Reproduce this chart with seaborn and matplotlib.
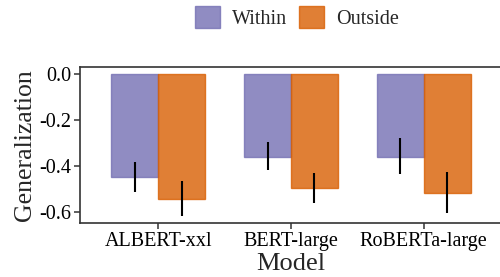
import matplotlib
matplotlib.use("Agg")
import matplotlib.pyplot as plt
import seaborn as sns
import pandas as pd
from matplotlib.patches import Patch

models = ["ALBERT-xxl", "BERT-large", "RoBERTa-large"]
conditions = ["Within", "Outside"]
within_mean = [-0.447, -0.360, -0.360]
within_lo = [-0.512, -0.417, -0.435]
within_hi = [-0.381, -0.294, -0.278]
outside_mean = [-0.545, -0.497, -0.516]
outside_lo = [-0.620, -0.560, -0.603]
outside_hi = [-0.465, -0.432, -0.427]
yticks = [0.0, -0.2, -0.4, -0.6]

fill_colors = {"Within": "#7570B3", "Outside": "#D95F02"}

df = pd.DataFrame({
    "Model": models * 2,
    "Condition": ["Within"] * 3 + ["Outside"] * 3,
    "Generalization": within_mean + outside_mean,
})
lows = {"Within": within_lo, "Outside": outside_lo}
highs = {"Within": within_hi, "Outside": outside_hi}
means = {"Within": within_mean, "Outside": outside_mean}

sns.set_theme(style="white")
plt.rcParams["font.family"] = ["Liberation Serif", "DejaVu Serif"]

fig = plt.figure(figsize=(5.0, 2.77), dpi=100)
ax = fig.add_axes([0.16, 0.196, 0.844, 0.562])

sns.barplot(data=df, x="Model", y="Generalization", hue="Condition",
            order=models, hue_order=conditions, palette=fill_colors,
            errorbar=None, width=0.707, saturation=1, alpha=0.8,
            legend=False, ax=ax)

for cond, cont in zip(conditions, ax.containers):
    for i, bar in enumerate(cont):
        bar.set_edgecolor(fill_colors[cond])
        bar.set_linewidth(1.0)
        xc = bar.get_x() + bar.get_width() / 2
        m = means[cond][i]
        ax.errorbar([xc], [m], yerr=[[m - lows[cond][i]], [highs[cond][i] - m]],
                    fmt="none", ecolor="black", elinewidth=1.5, capsize=0, zorder=5)

ax.set_xlim(-0.59, 2.59)
ax.set_ylim(-0.647, 0.030)
ax.set_yticks(yticks)
ax.set_yticklabels([f"{v:.1f}" for v in yticks])

for s in ax.spines.values():
    s.set_visible(True)
    s.set_color("#333333")
    s.set_linewidth(1.2)

ax.tick_params(axis="both", which="major", direction="out", length=4, width=1.1,
               color="#333333", labelsize=14.5, labelcolor="black", pad=2,
               bottom=True, left=True)
ax.tick_params(axis="x", pad=3)
ax.set_xlabel("Model", fontsize=19, labelpad=1)
ax.set_ylabel("Generalization", fontsize=18.5, labelpad=3)

handles = [Patch(facecolor=fill_colors[c], edgecolor=fill_colors[c], alpha=0.8, linewidth=1.0)
           for c in conditions]
fig.legend(handles, conditions, loc="center", bbox_to_anchor=(0.594, 0.937),
           ncol=2, frameon=False, fontsize=14.5, handlelength=1.25, handleheight=1.25,
           handletextpad=0.6, columnspacing=0.6, borderpad=0.1)

fig.savefig("out.png", dpi=100)
